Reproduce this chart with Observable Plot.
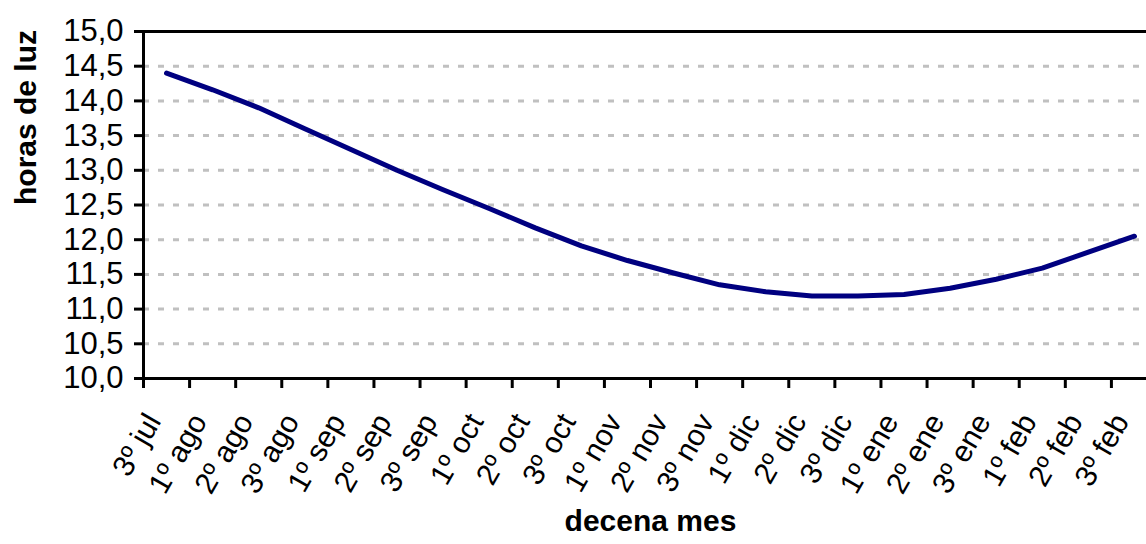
<!DOCTYPE html>
<html>
<head>
<meta charset="utf-8">
<script src="https://cdn.jsdelivr.net/npm/d3@7"></script>
<script src="https://cdn.jsdelivr.net/npm/@observablehq/plot@0.6"></script>
<style>
  html, body { margin: 0; padding: 0; background: #fff; overflow: hidden; }
  #chart svg { overflow: hidden; display: block; }
</style>
</head>
<body>
<div id="chart"></div>
<script>
const categories = ["3º jul","1º ago","2º ago","3º ago","1º sep","2º sep","3º sep","1º oct","2º oct","3º oct","1º nov","2º nov","3º nov","1º dic","2º dic","3º dic","1º ene","2º ene","3º ene","1º feb","2º feb","3º feb"];
const horasDeLuz = [14.40,14.16,13.90,13.60,13.30,13.00,12.72,12.45,12.17,11.91,11.70,11.52,11.35,11.25,11.19,11.19,11.21,11.30,11.43,11.59,11.82,12.05];
const yTicks = [10,10.5,11,11.5,12,12.5,13,13.5,14,14.5,15];
const yTitle = "horas de luz";
const xTitle = "decena mes";

const esLocale = d3.formatLocale({decimal: ",", thousands: ".", grouping: [3], currency: ["", " €"]});
const fmt = esLocale.format(".1f");

const data = categories.map((c, i) => ({cat: c, pos: i + 0.5, h: horasDeLuz[i]}));
const bounds = d3.range(0, categories.length + 1);

const chart = Plot.plot({
  width: 1146,
  height: 544,
  marginLeft: 143,
  marginRight: -11,
  marginTop: 31,
  marginBottom: 166,
  style: {fontFamily: "'Liberation Sans', Arial, sans-serif", fontSize: "31px", color: "#000", background: "#fff", overflow: "hidden"},
  x: {domain: [0, categories.length]},
  y: {domain: [10, 15]},
  marks: [
    Plot.gridY(yTicks.filter(t => t > 10 && t < 15), {stroke: "#c0c0c0", strokeOpacity: 1, strokeWidth: 3, strokeDasharray: "6,9"}),
    Plot.ruleY([15], {stroke: "#000", strokeWidth: 3}),
    Plot.ruleY([10], {stroke: "#000", strokeWidth: 3}),
    Plot.ruleX([0], {stroke: "#000", strokeWidth: 3}),
    Plot.axisY(yTicks, {tickSize: 9, tickPadding: 11, strokeWidth: 3, tickFormat: fmt, label: null, fontSize: 31}),
    Plot.axisX(bounds, {tickSize: 10, strokeWidth: 3, tickFormat: () => "", label: null}),
    Plot.axisX(data.map(d => d.pos), {tickSize: 0, tickRotate: -60, textAnchor: "end", lineAnchor: "middle", tickPadding: 38, dx: -13, tickFormat: p => categories[Math.floor(p)], label: null, fontSize: 30}),
    Plot.line(data, {x: "pos", y: "h", stroke: "#000080", strokeWidth: 5}),
    Plot.text([yTitle], {text: d => d, frameAnchor: "left", rotate: -90, dx: -117, fontWeight: "bold", fontSize: 30}),
    Plot.text([xTitle], {text: d => d, frameAnchor: "bottom", dy: 152, fontWeight: "bold", fontSize: 30})
  ]
});
document.getElementById("chart").appendChild(chart);
</script>
</body>
</html>
